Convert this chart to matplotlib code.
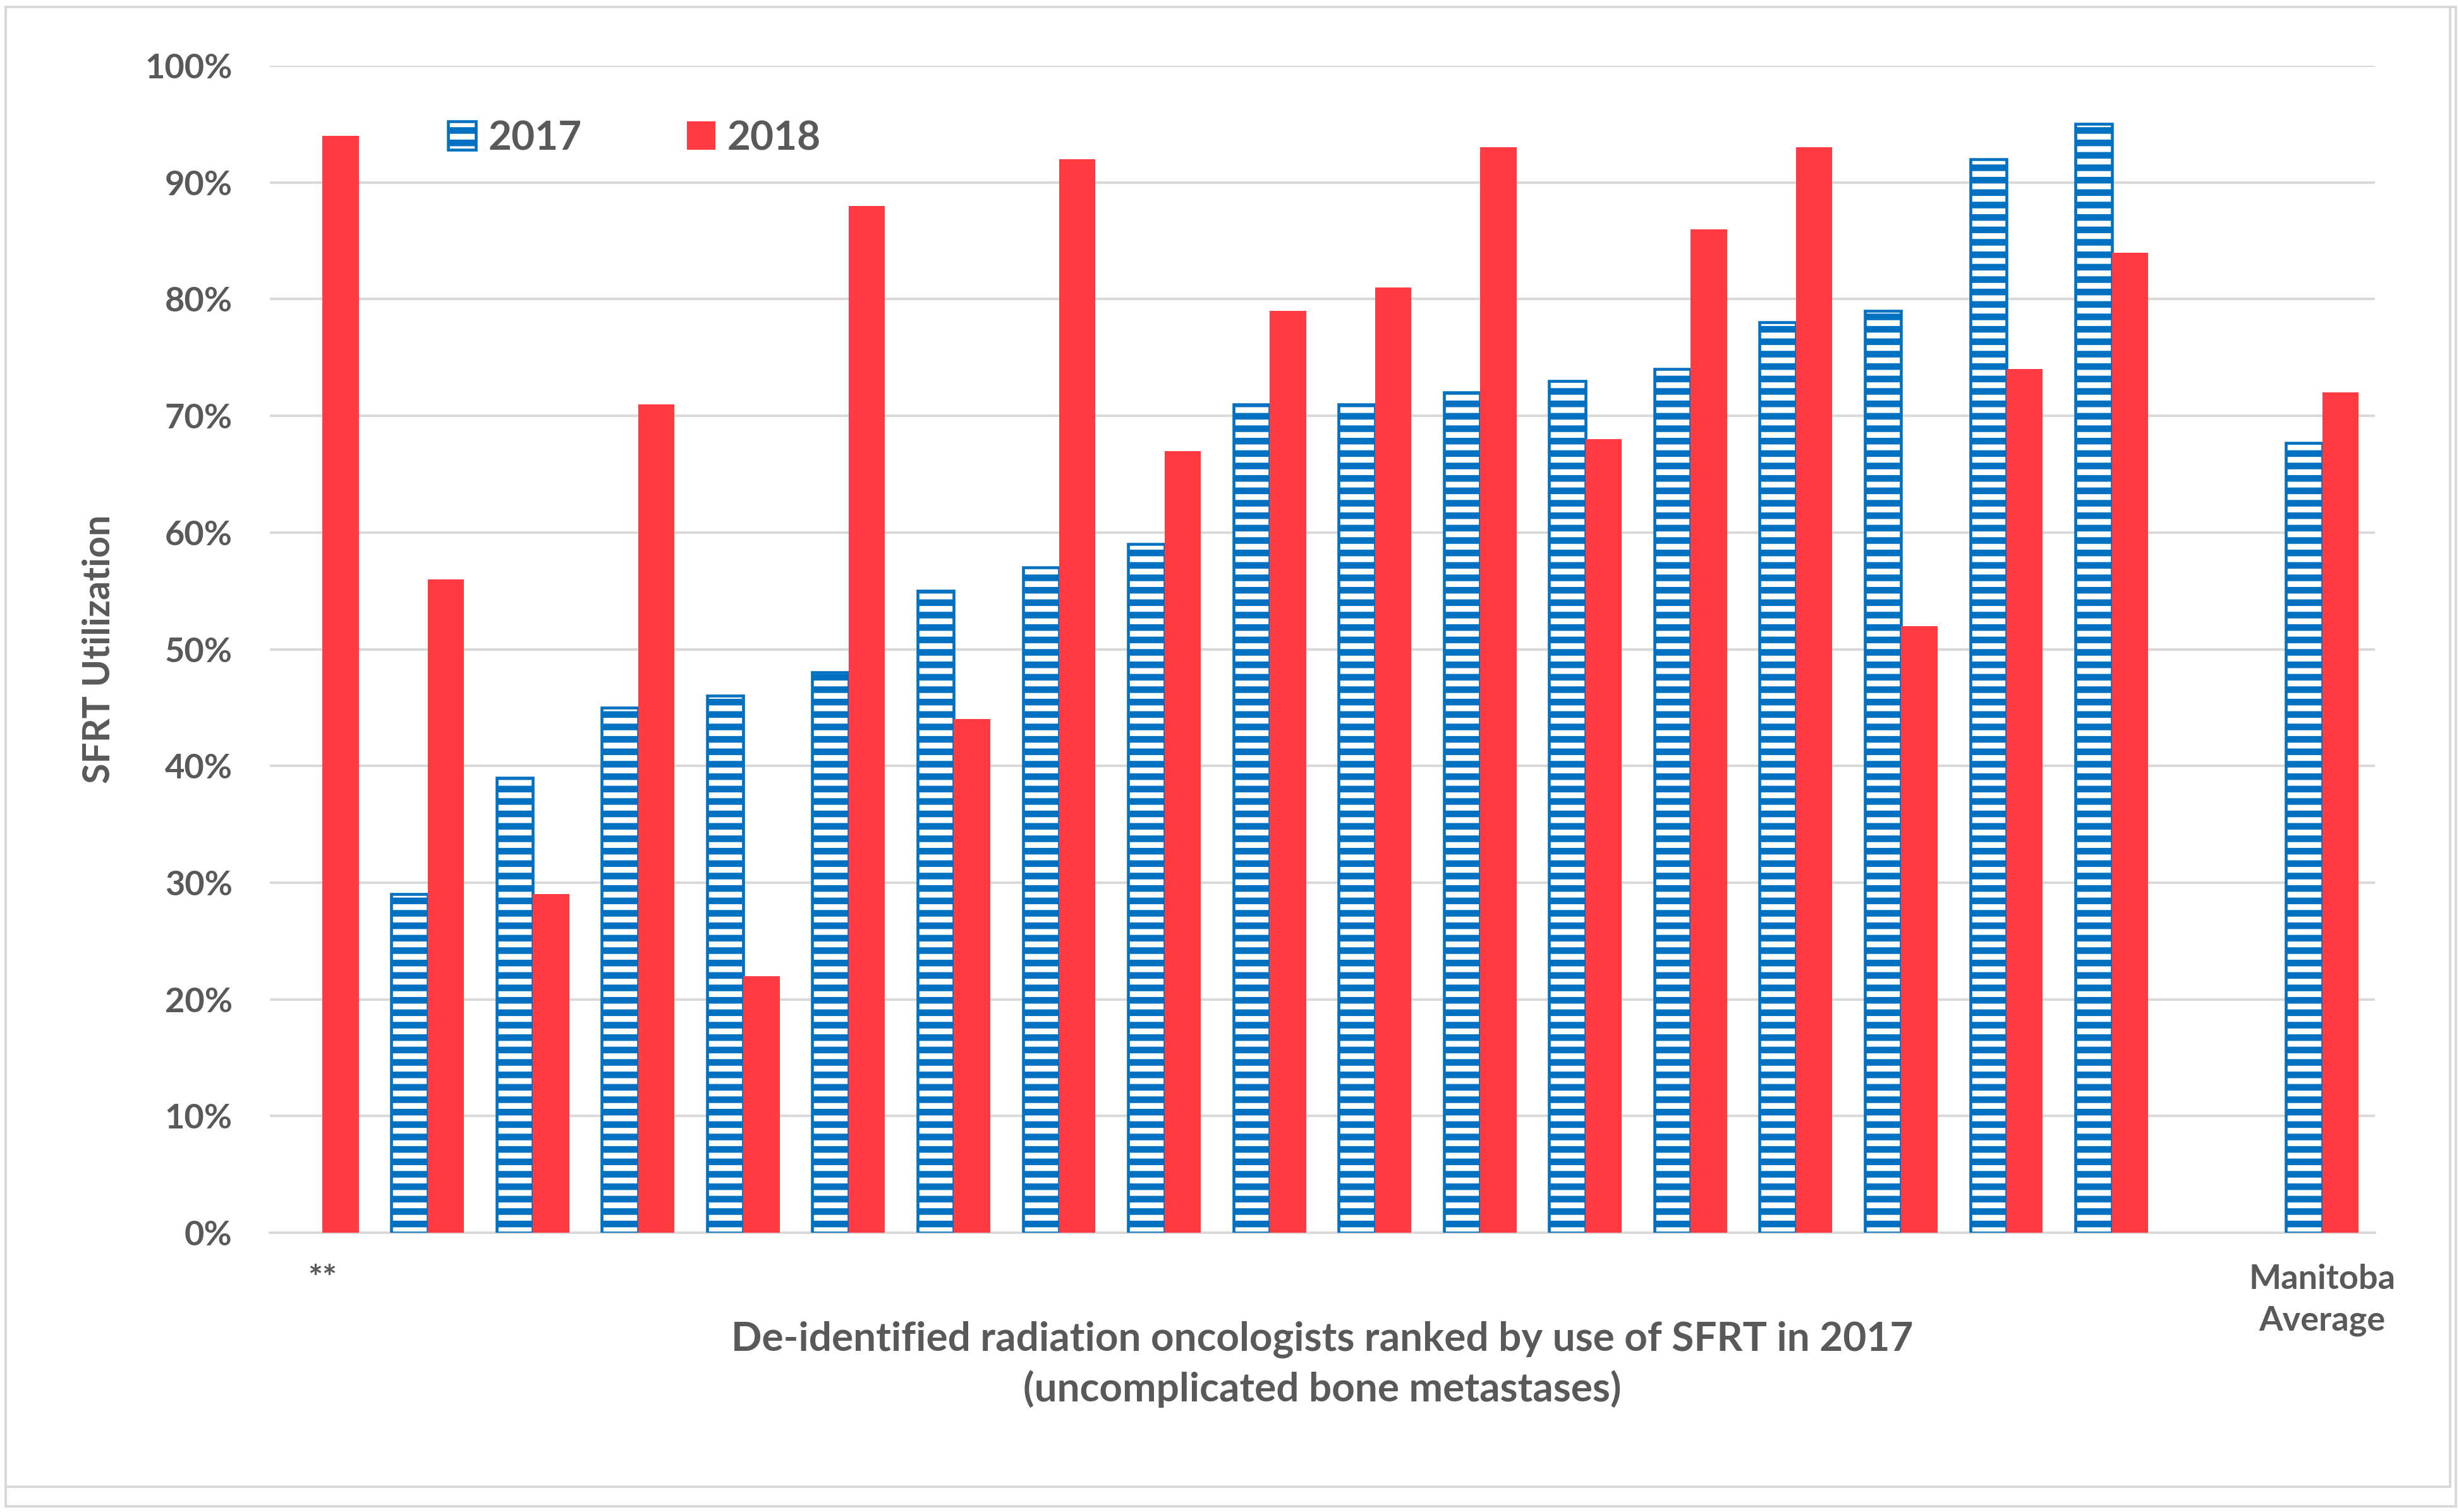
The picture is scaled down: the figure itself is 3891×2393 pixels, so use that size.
import numpy as np
import matplotlib
matplotlib.use("Agg")
import matplotlib.pyplot as plt
from matplotlib.patches import Rectangle

# data (percent of cases treated with SFRT)
categories = ["**"] + [""] * 18 + ["Manitoba\nAverage"]
use_2017 = [np.nan, 29, 39, 45, 46, 48, 55, 57, 59, 71, 71, 72, 73, 74, 78, 79, 92, 95, np.nan, 67.7]
use_2018 = [94, 56, 29, 71, 22, 88, 44, 92, 67, 79, 81, 93, 68, 86, 93, 52, 74, 84, np.nan, 72]
y_ticks = list(range(0, 101, 10))

BLUE = "#0070C0"
RED = "#FF3A40"
GRID = "#D9D9D9"
TEXT = "#595959"

DPI = 236
plt.rcParams["font.family"] = ["Lato", "DejaVu Sans"]
plt.rcParams["font.weight"] = "bold"
plt.rcParams["axes.labelweight"] = "bold"
plt.rcParams["hatch.linewidth"] = 3.2

fig = plt.figure(figsize=(3891 / DPI, 2393 / DPI), dpi=DPI)
ax = fig.add_axes([0.1097, 0.1847, 0.9658 - 0.1097, 0.9565 - 0.1847])

x = np.arange(len(categories))
w = 0.345
ax.bar(x - w / 2, use_2017, width=w, color="white", edgecolor=BLUE,
       hatch="--", linewidth=1.4, label="2017", zorder=3)
ax.bar(x + w / 2, use_2018, width=w, color=RED, linewidth=0,
       label="2018", zorder=3)

ax.set_xlim(-0.5, len(categories) - 0.5)
ax.set_ylim(0, 100)
ax.set_yticks(y_ticks)
ax.set_yticklabels(["%d%%" % t for t in y_ticks])
ax.set_xticks(x)
ax.set_xticklabels(categories, linespacing=1.4)

ax.grid(axis="y", color=GRID, linewidth=1.2, zorder=0)
for s in ["top", "right", "left"]:
    ax.spines[s].set_visible(False)
ax.spines["bottom"].set_color(GRID)
ax.spines["bottom"].set_linewidth(1.2)
ax.tick_params(axis="both", length=0, colors=TEXT)
ax.tick_params(axis="y", labelsize=16.5, pad=18)
ax.tick_params(axis="x", labelsize=16.5, pad=15)

ax.set_ylabel("SFRT Utilization", fontsize=18, color=TEXT, fontweight="bold")
ax.yaxis.set_label_coords(-0.073, 0.5)
ax.set_xlabel("De-identified radiation oncologists ranked by use of SFRT in 2017\n"
              "(uncomplicated bone metastases)", fontsize=19.5, color=TEXT,
              fontweight="bold", linespacing=1.4)
ax.xaxis.set_label_coords(0.5, -0.075)
ax.xaxis.label.set_va("top")

ax.legend(loc="center left", bbox_to_anchor=(0.075, 0.938), ncol=2,
          frameon=False, fontsize=19.5, handlelength=0.7, handleheight=0.7,
          handletextpad=0.3, columnspacing=2.6, borderpad=0,
          labelcolor=TEXT)

# double grey frame around the chart
fig.add_artist(Rectangle((9 / 3891, 1 - 2353 / 2393), (3877 - 9) / 3891,
                         (2353 - 11) / 2393, transform=fig.transFigure,
                         fill=False, edgecolor=GRID, linewidth=1.2))
fig.add_artist(Rectangle((9 / 3891, 1 - 2384 / 2393), (3886 - 9) / 3891,
                         (2384 - 11) / 2393, transform=fig.transFigure,
                         fill=False, edgecolor=GRID, linewidth=1.2))

fig.savefig("out.png", dpi=DPI, facecolor="white")
